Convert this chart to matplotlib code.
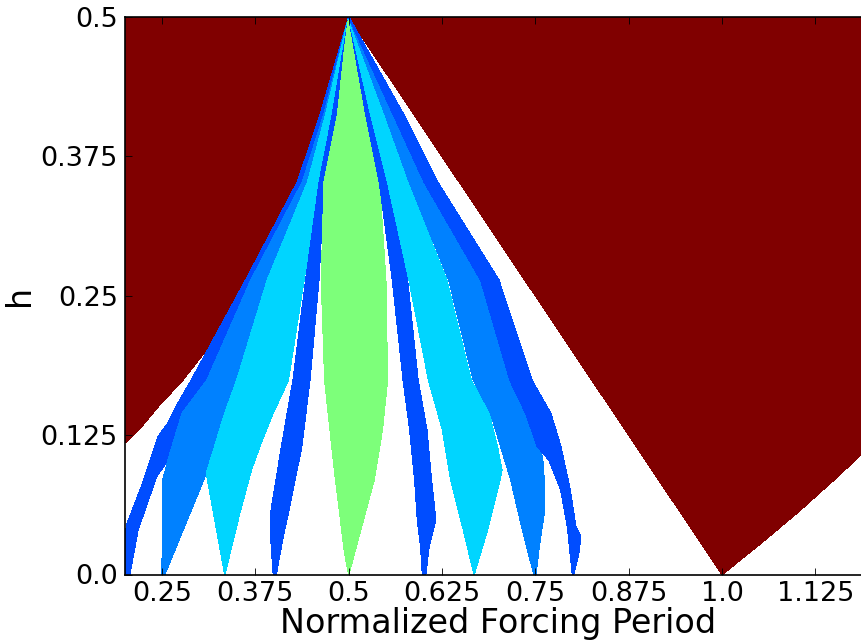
import numpy as np
import matplotlib
matplotlib.use("Agg")
import matplotlib.pyplot as plt

# ---- data: locking regions in the (normalized forcing period, h) plane ----
# colour of each region = jet(1 / period)
red_left_period = 1
red_left_x = [0.19, 0.19, 0.2, 0.209, 0.2224, 0.2446, 0.2773, 0.303, 0.3286, 0.351, 0.372, 0.398,
              0.4313, 0.4616, 0.482, 0.5]
red_left_h = [0.5, 0.11, 0.118, 0.1236, 0.1326, 0.1505, 0.174, 0.196, 0.219, 0.246, 0.272, 0.305,
              0.35, 0.412, 0.455, 0.5]

red_right_period = 1
red_right_x = [0.5, 1.0, 1.05, 1.10, 1.15, 1.19, 1.21, 1.21]
red_right_h = [0.5, 0.0, 0.027, 0.055, 0.085, 0.11, 0.123, 0.5]

blue15_period = 5
blue15_x = [0.19, 0.2035, 0.2224, 0.2446, 0.258, 0.2737, 0.2893, 0.362, 0.4313, 0.4616, 0.5,
            0.4665, 0.438, 0.369, 0.31, 0.277, 0.258, 0.2425, 0.2178, 0.2067, 0.19]
blue15_h = [0.0, 0.046, 0.0788, 0.1236, 0.1356, 0.1565, 0.1744, 0.264, 0.352, 0.412, 0.5,
            0.412, 0.352, 0.264, 0.174, 0.1446, 0.1027, 0.0877, 0.04, 0.0, 0.0]

lb14_period = 4
lb14_x = [0.25, 0.2513, 0.258, 0.277, 0.31, 0.369, 0.438, 0.4665, 0.5,
          0.469, 0.445, 0.391, 0.35, 0.334, 0.3206, 0.3094, 0.2536]
lb14_h = [0.0, 0.085, 0.1027, 0.1446, 0.174, 0.264, 0.352, 0.412, 0.5,
          0.412, 0.352, 0.264, 0.174, 0.1446, 0.115, 0.091, 0.0]

cyan13_period = 3
cyan13_x = [0.334, 0.3094, 0.3206, 0.334, 0.35, 0.391, 0.445, 0.469, 0.5,
            0.478, 0.4605, 0.44, 0.419, 0.3986, 0.381, 0.3697, 0.354, 0.334]
cyan13_h = [0.0, 0.091, 0.115, 0.1446, 0.174, 0.264, 0.352, 0.412, 0.5,
            0.412, 0.352, 0.264, 0.174, 0.1446, 0.115, 0.094, 0.055, 0.0]

blue25_period = 5
blue25_x = [0.399, 0.395, 0.3955, 0.41, 0.4254, 0.4424, 0.4605, 0.478, 0.5,
            0.485, 0.467, 0.46, 0.4478, 0.437, 0.419, 0.414, 0.4062, 0.403]
blue25_h = [0.0, 0.04, 0.055, 0.1146, 0.174, 0.264, 0.352, 0.412, 0.5,
            0.412, 0.352, 0.264, 0.174, 0.1146, 0.055, 0.04, 0.013, 0.0]

green12_period = 2
green12_x = [0.5, 0.4946, 0.4813, 0.4679, 0.4634, 0.467, 0.485, 0.4946, 0.5,
             0.5107, 0.523, 0.541, 0.5496, 0.5518, 0.545, 0.534, 0.516, 0.5]
green12_h = [0.0, 0.019, 0.091, 0.174, 0.264, 0.352, 0.412, 0.472, 0.5,
             0.472, 0.412, 0.352, 0.264, 0.174, 0.13, 0.085, 0.04, 0.0]

blue35_period = 5
blue35_x = [0.5987, 0.5964, 0.592, 0.5884, 0.5817, 0.573, 0.5585, 0.541, 0.523, 0.5,
            0.5295, 0.552, 0.5786, 0.5928, 0.6045, 0.6107, 0.6165, 0.6075, 0.603]
blue35_h = [0.0, 0.025, 0.049, 0.085, 0.13, 0.174, 0.264, 0.352, 0.412, 0.5,
            0.412, 0.352, 0.264, 0.174, 0.13, 0.085, 0.049, 0.025, 0.0]

cyan23_period = 3
cyan23_x = [0.6678, 0.6536, 0.6366, 0.6255, 0.607, 0.5808, 0.552, 0.5295, 0.5,
            0.549, 0.5786, 0.6312, 0.664, 0.688, 0.699, 0.705, 0.7026, 0.6857, 0.6678]
cyan23_h = [0.0, 0.04, 0.085, 0.13, 0.174, 0.264, 0.352, 0.412, 0.5,
            0.412, 0.352, 0.264, 0.174, 0.1446, 0.1146, 0.0937, 0.085, 0.04, 0.0]

lb34_period = 4
lb34_x = [0.748, 0.7326, 0.717, 0.7036, 0.690, 0.667, 0.634, 0.581, 0.549, 0.5,
          0.56, 0.601, 0.6768, 0.716, 0.737, 0.7527, 0.7594, 0.7616, 0.7616, 0.755, 0.7505]
lb34_h = [0.0, 0.04, 0.085, 0.1146, 0.1446, 0.174, 0.264, 0.352, 0.412, 0.5,
          0.412, 0.352, 0.264, 0.174, 0.1446, 0.1146, 0.1057, 0.085, 0.055, 0.025, 0.0]

blue45_period = 5
blue45_x = [0.7996, 0.7965, 0.7929, 0.784, 0.768, 0.7527, 0.737, 0.716, 0.6768, 0.601, 0.56, 0.5,
            0.574, 0.619, 0.701, 0.7454, 0.7705, 0.784, 0.7965, 0.804, 0.8107, 0.808, 0.803, 0.801]
blue45_h = [0.0, 0.019, 0.043, 0.0758, 0.1027, 0.1146, 0.1446, 0.174, 0.264, 0.352, 0.412, 0.5,
            0.412, 0.352, 0.264, 0.174, 0.1446, 0.1146, 0.0758, 0.043, 0.034, 0.019, 0.005, 0.0]

x_ticks = [0.25, 0.375, 0.5, 0.625, 0.75, 0.875, 1.0, 1.125]
x_tick_labels = ["0.25", "0.375", "0.5", "0.625", "0.75", "0.875", "1.0", "1.125"]
y_ticks = [0.0, 0.125, 0.25, 0.375, 0.5]
y_tick_labels = ["0.0", "0.125", "0.25", "0.375", "0.5"]

regions = [
    (red_left_x, red_left_h, red_left_period),
    (red_right_x, red_right_h, red_right_period),
    (blue15_x, blue15_h, blue15_period),
    (lb14_x, lb14_h, lb14_period),
    (cyan13_x, cyan13_h, cyan13_period),
    (blue25_x, blue25_h, blue25_period),
    (green12_x, green12_h, green12_period),
    (blue35_x, blue35_h, blue35_period),
    (cyan23_x, cyan23_h, cyan23_period),
    (lb34_x, lb34_h, lb34_period),
    (blue45_x, blue45_h, blue45_period),
]

plt.rcParams['font.family'] = ['DejaVu Sans']
fig = plt.figure(figsize=(8.62, 6.43), dpi=100)
W, H = 862.0, 643.0
ax = fig.add_axes([124.7 / W, (H - 574.5) / H, (871.5 - 124.7) / W, 557.5 / H])

cmap = plt.get_cmap('jet')
for xs, hs, period in regions:
    c = cmap(1.0 / period)
    ax.fill(xs, hs, facecolor=c, edgecolor=c, linewidth=0.3, antialiased=False)

ax.set_xlim(0.2, 1.2)
ax.set_ylim(0.0, 0.5)
ax.set_xticks(x_ticks)
ax.set_xticklabels(x_tick_labels)
ax.set_yticks(y_ticks)
ax.set_yticklabels(y_tick_labels)
ax.tick_params(direction='in', top=True, right=True, length=5, width=0.6,
               labelsize=19.5, pad=5)
for s in ax.spines.values():
    s.set_linewidth(1.2)
ax.set_xlabel('Normalized Forcing Period', fontsize=24, labelpad=0)
ax.set_ylabel('h', fontsize=24, labelpad=3)

fig.savefig('out.png', dpi=100)
